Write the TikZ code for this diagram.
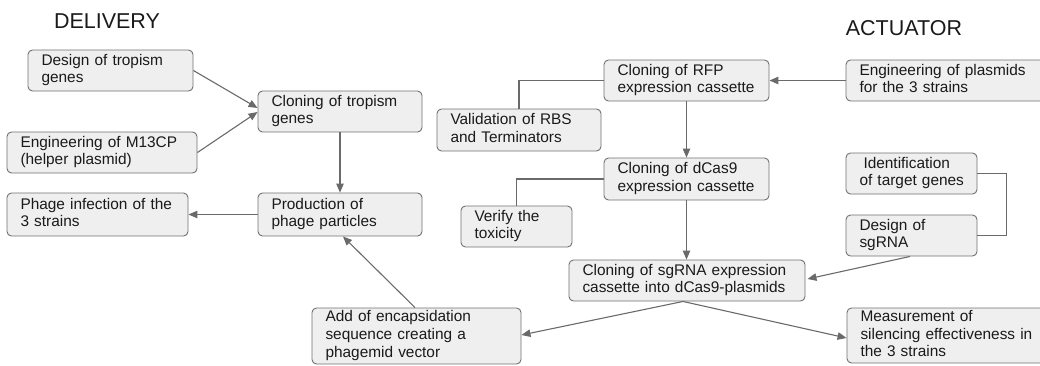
\documentclass[tikz,border=0pt]{standalone}
\usepackage{fontspec}
\setmainfont{Liberation Sans}
\usetikzlibrary{arrows.meta}
\definecolor{boxfill}{HTML}{EFEFEF}
\definecolor{boxline}{HTML}{707070}
\definecolor{arrowc}{HTML}{6A6A6A}
\definecolor{textc}{HTML}{1A1A1A}
\newcommand{\bodyfnt}{\fontsize{15.4}{17.6}\selectfont}
\newcommand{\titlefnt}{\fontsize{21.5}{24}\selectfont}
\tikzset{
  box/.style={draw=boxline, fill=boxfill, rounded corners=4.5pt, line width=0.9pt,
    inner xsep=13.5pt, inner ysep=0pt, align=left, font=\bodyfnt, text=textc,
    execute at begin node=\strut, execute at end node=\strut},
  conn/.style={draw=arrowc, line width=1.1pt},
  arr/.style={conn, -{Triangle[length=9pt,width=7.5pt]}},
  ttl/.style={font=\titlefnt, text=textc, inner sep=0pt}
}
\begin{document}
\begin{tikzpicture}[x=1pt,y=-1pt]
\useasboundingbox (0,0) rectangle (1040,365);
\clip (0,0) rectangle (1040,365);
% titles
\node[ttl] (tdel) at (107,21) {DELIVERY};
\node[ttl] (tact) at (904,28) {ACTUATOR};
% delivery boxes
\node[box, text width=138pt, minimum height=41pt] (des) at (110.5,70.5) {\mbox{Design of tropism}\\genes};
\node[box, text width=163pt, minimum height=41pt] (eng) at (102,152.5) {\mbox{Engineering of M13CP}\\(helper plasmid)};
\node[box, text width=154pt, minimum height=43pt] (inf) at (97.5,214.5) {\mbox{Phage infection of the}\\3 strains};
\node[box, text width=137pt, minimum height=41pt] (clt) at (340,111.5) {\mbox{Cloning of tropism}\\genes};
\node[box, text width=137pt, minimum height=43pt] (pro) at (340,214.5) {\mbox{Production of}\\phage particles};
\node[box, text width=182pt, minimum height=56pt] (add) at (416.5,336) {\mbox{Add of encapsidation}\\\mbox{sequence creating a}\\phagemid vector};
% actuator boxes
\node[box, text width=138pt, minimum height=41pt] (rfp) at (686.5,80.5) {\mbox{Cloning of RFP}\\\mbox{expression cassette}};
\node[box, text width=137pt, minimum height=42pt] (val) at (519,130) {\mbox{Validation of RBS}\\\mbox{and Terminators}};
\node[box, text width=138pt, minimum height=42pt] (dca) at (686.5,179) {\mbox{Cloning of dCas9}\\\mbox{expression cassette}};
\node[box, text width=84pt, minimum height=41pt] (tox) at (516.5,226.5) {\mbox{Verify the}\\toxicity};
\node[box, text width=209pt, minimum height=41pt] (sgc) at (687,280.5) {\mbox{Cloning of sgRNA expression}\\\mbox{cassette into dCas9-plasmids}};
\node[box, text width=172pt, minimum height=41pt] (epl) at (945.5,80.5) {\mbox{Engineering of plasmids}\\\mbox{for the 3 strains}};
\node[box, text width=104pt, minimum height=41pt] (idt) at (911.5,173.5) {\mbox{\hspace{4pt}Identification}\\\mbox{of target genes}};
\node[box, text width=104pt, minimum height=41pt] (dsg) at (911.5,235.5) {\mbox{Design of}\\sgRNA};
\node[box, text width=171pt, minimum height=55pt] (mea) at (946,335.5) {\mbox{Measurement of}\\\mbox{silencing effectiveness in}\\\mbox{the 3 strains}};
% connectors delivery
\draw[arr] (des.east) -- ([yshift=3.5pt]clt.west);
\draw[arr] (eng.east) -- ([yshift=-0.5pt]clt.west);
\draw[arr] (clt.south) -- (pro.north);
\draw[arr] (pro.west) -- (inf.east);
\draw[arr] ([xshift=-1.5pt]add.north) -- ([xshift=3pt]pro.south);
% connectors actuator
\draw[arr] (epl.west) -- (rfp.east);
\draw[arr] (rfp.south) -- (dca.north);
\draw[arr] (dca.south) -- (dca.south |- sgc.north);
\draw[conn] (val.north) |- (rfp.west);
\draw[conn] (tox.north) |- (dca.west);
\draw[conn] (idt.east) -- ++(29,0) |- (dsg.east);
\draw[arr] ([xshift=-1.5pt]dsg.south) -- ([xshift=2pt,yshift=1.5pt]sgc.east);
\coordinate (sgcout) at ([xshift=-4pt]sgc.south);
\draw[arr] (sgcout) -- ([yshift=1pt]add.east);
\draw[arr] (sgcout) -- ([yshift=-2.5pt]mea.west);
\end{tikzpicture}
\end{document}
